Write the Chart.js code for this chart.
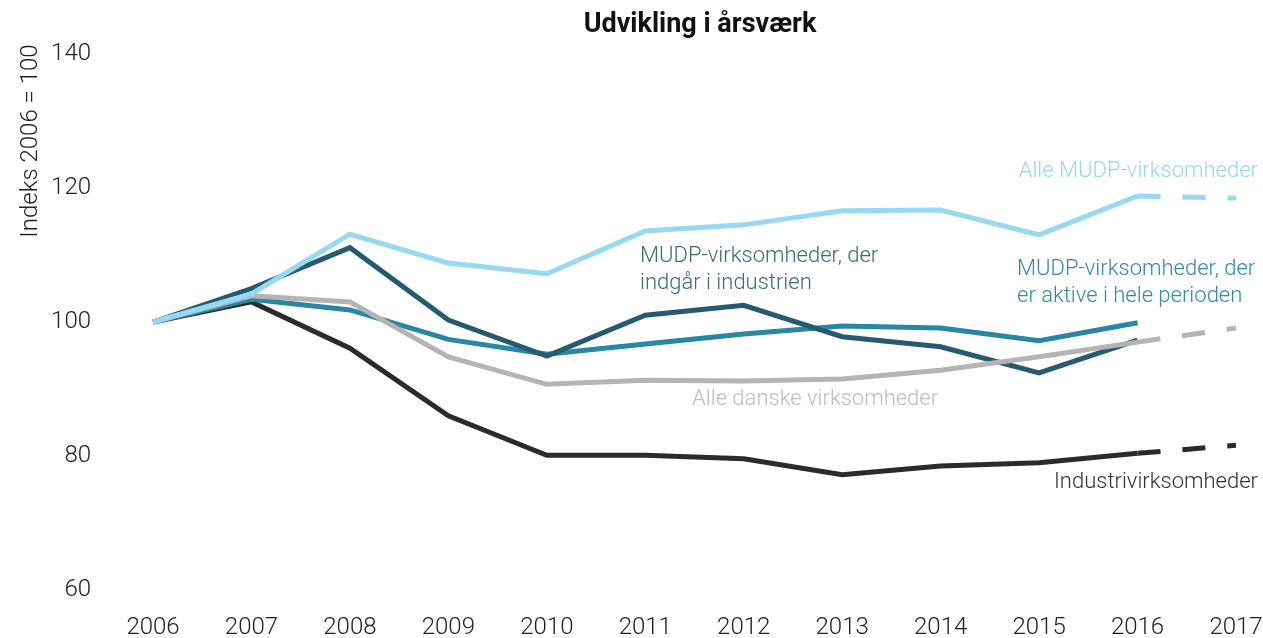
<!DOCTYPE html>
<html>
<head>
<meta charset="utf-8">
<script src="https://cdn.jsdelivr.net/npm/chart.js@4/dist/chart.umd.min.js"></script>
<style>
  html, body { margin: 0; padding: 0; background: #fff; }
  #wrap { width: 1263px; height: 638px; position: relative; }
</style>
</head>
<body>
<div id="wrap"><canvas id="c" width="1263" height="638"></canvas></div>
<script>
const years = ['2006','2007','2008','2009','2010','2011','2012','2013','2014','2015','2016','2017'];
const alleMudp     = [100, 104.2, 113.1, 108.8, 107.2, 113.6, 114.5, 116.6, 116.7, 113.0, 118.8, 118.5];
const mudpIndustri = [100, 105.0, 111.1, 100.3, 94.9, 101.0, 102.5, 97.8, 96.3, 92.4, 97.3, null];
const mudpAktive   = [100, 103.4, 101.8, 97.4, 95.2, 96.7, 98.2, 99.4, 99.1, 97.2, 99.9, null];
const alleDanske   = [100, 103.9, 103.0, 94.8, 90.7, 91.3, 91.2, 91.5, 92.8, 94.8, 97.0, 99.1];
const industri     = [100, 103.0, 96.1, 86.0, 80.1, 80.1, 79.6, 77.2, 78.5, 79.0, 80.4, 81.6];
const yTicks = [60, 80, 100, 120, 140];

const titleText = 'Udvikling i årsværk';
const yTitleText = 'Indeks 2006 = 100';
const seriesLabels = {
  alleMudp: ['Alle MUDP-virksomheder'],
  mudpAktive: ['MUDP-virksomheder, der', 'er aktive i hele perioden'],
  mudpIndustri: ['MUDP-virksomheder, der', 'indgår i industrien'],
  alleDanske: ['Alle danske virksomheder'],
  industri: ['Industrivirksomheder']
};

const FONT = 'Roboto, "Open Sans", sans-serif';
const dashLast = ctx => ctx.p0DataIndex === 10 ? [23, 22] : undefined;

function ds(label, data, color) {
  return {
    label, data,
    borderColor: color,
    backgroundColor: color,
    borderWidth: 5,
    pointRadius: 0,
    pointHoverRadius: 0,
    tension: 0,
    fill: false,
    borderCapStyle: 'butt',
    borderJoinStyle: 'miter',
    segment: { borderDash: dashLast }
  };
}

const annot = {
  id: 'annot',
  afterDraw(chart) {
    const c = chart.ctx;
    c.save();
    c.fillStyle = '#111';
    c.font = 'bold 27px ' + FONT;
    c.textAlign = 'center';
    c.textBaseline = 'middle';
    c.fillText(titleText, 700, 25);
    c.save();
    c.translate(31, 141);
    c.rotate(-Math.PI / 2);
    c.font = '300 24px ' + FONT;
    c.fillStyle = '#222';
    c.fillText(yTitleText, 0, 0);
    c.restore();
    function lab(lines, x, y, color, align) {
      c.font = '300 22px ' + FONT;
      c.fillStyle = color;
      c.textAlign = align;
      c.textBaseline = 'middle';
      lines.forEach((t, i) => c.fillText(t, x, y + i * 27));
    }
    lab(seriesLabels.alleMudp, 1258, 171, '#98d6ee', 'right');
    lab(seriesLabels.mudpAktive, 1017, 269, '#3389aa', 'left');
    lab(seriesLabels.mudpIndustri, 640, 256, '#3b6a7c', 'left');
    lab(seriesLabels.alleDanske, 692, 399, '#bdbdbd', 'left');
    lab(seriesLabels.industri, 1258, 482, '#333333', 'right');
    c.restore();
  }
};

new Chart(document.getElementById('c'), {
  type: 'line',
  data: {
    labels: years,
    datasets: [
      ds('Alle MUDP-virksomheder', alleMudp, '#97d8f2'),
      ds('Alle danske virksomheder', alleDanske, '#b4b4b4'),
      ds('MUDP-virksomheder, der indgår i industrien', mudpIndustri, '#255b6e'),
      ds('MUDP-virksomheder, der er aktive i hele perioden', mudpAktive, '#2886a7'),
      ds('Industrivirksomheder', industri, '#2b2b2b')
    ]
  },
  options: {
    responsive: false,
    maintainAspectRatio: false,
    animation: false,
    events: [],
    layout: { padding: { top: 54, right: 27, left: 0, bottom: 0 } },
    plugins: {
      legend: { display: false },
      title: { display: false },
      tooltip: { enabled: false }
    },
    scales: {
      x: {
        offset: false,
        grid: { display: false, drawTicks: false },
        border: { display: false },
        afterFit: s => { s.height = 48; s.paddingLeft = 0; s.paddingRight = 0; },
        ticks: { color: '#222', font: { family: FONT, size: 24, weight: '300' }, padding: 24, maxRotation: 0, autoSkip: false }
      },
      y: {
        min: 60, max: 140,
        afterBuildTicks: s => { s.ticks = yTicks.map(v => ({ value: v })); },
        afterFit: s => { s.width = 153; s.paddingTop = 0; s.paddingBottom = 0; },
        grid: { display: false, drawTicks: false },
        border: { display: false },
        ticks: { color: '#222', font: { family: FONT, size: 24, weight: '300' }, padding: 62 }
      }
    }
  },
  plugins: [annot]
});
</script>
</body>
</html>
